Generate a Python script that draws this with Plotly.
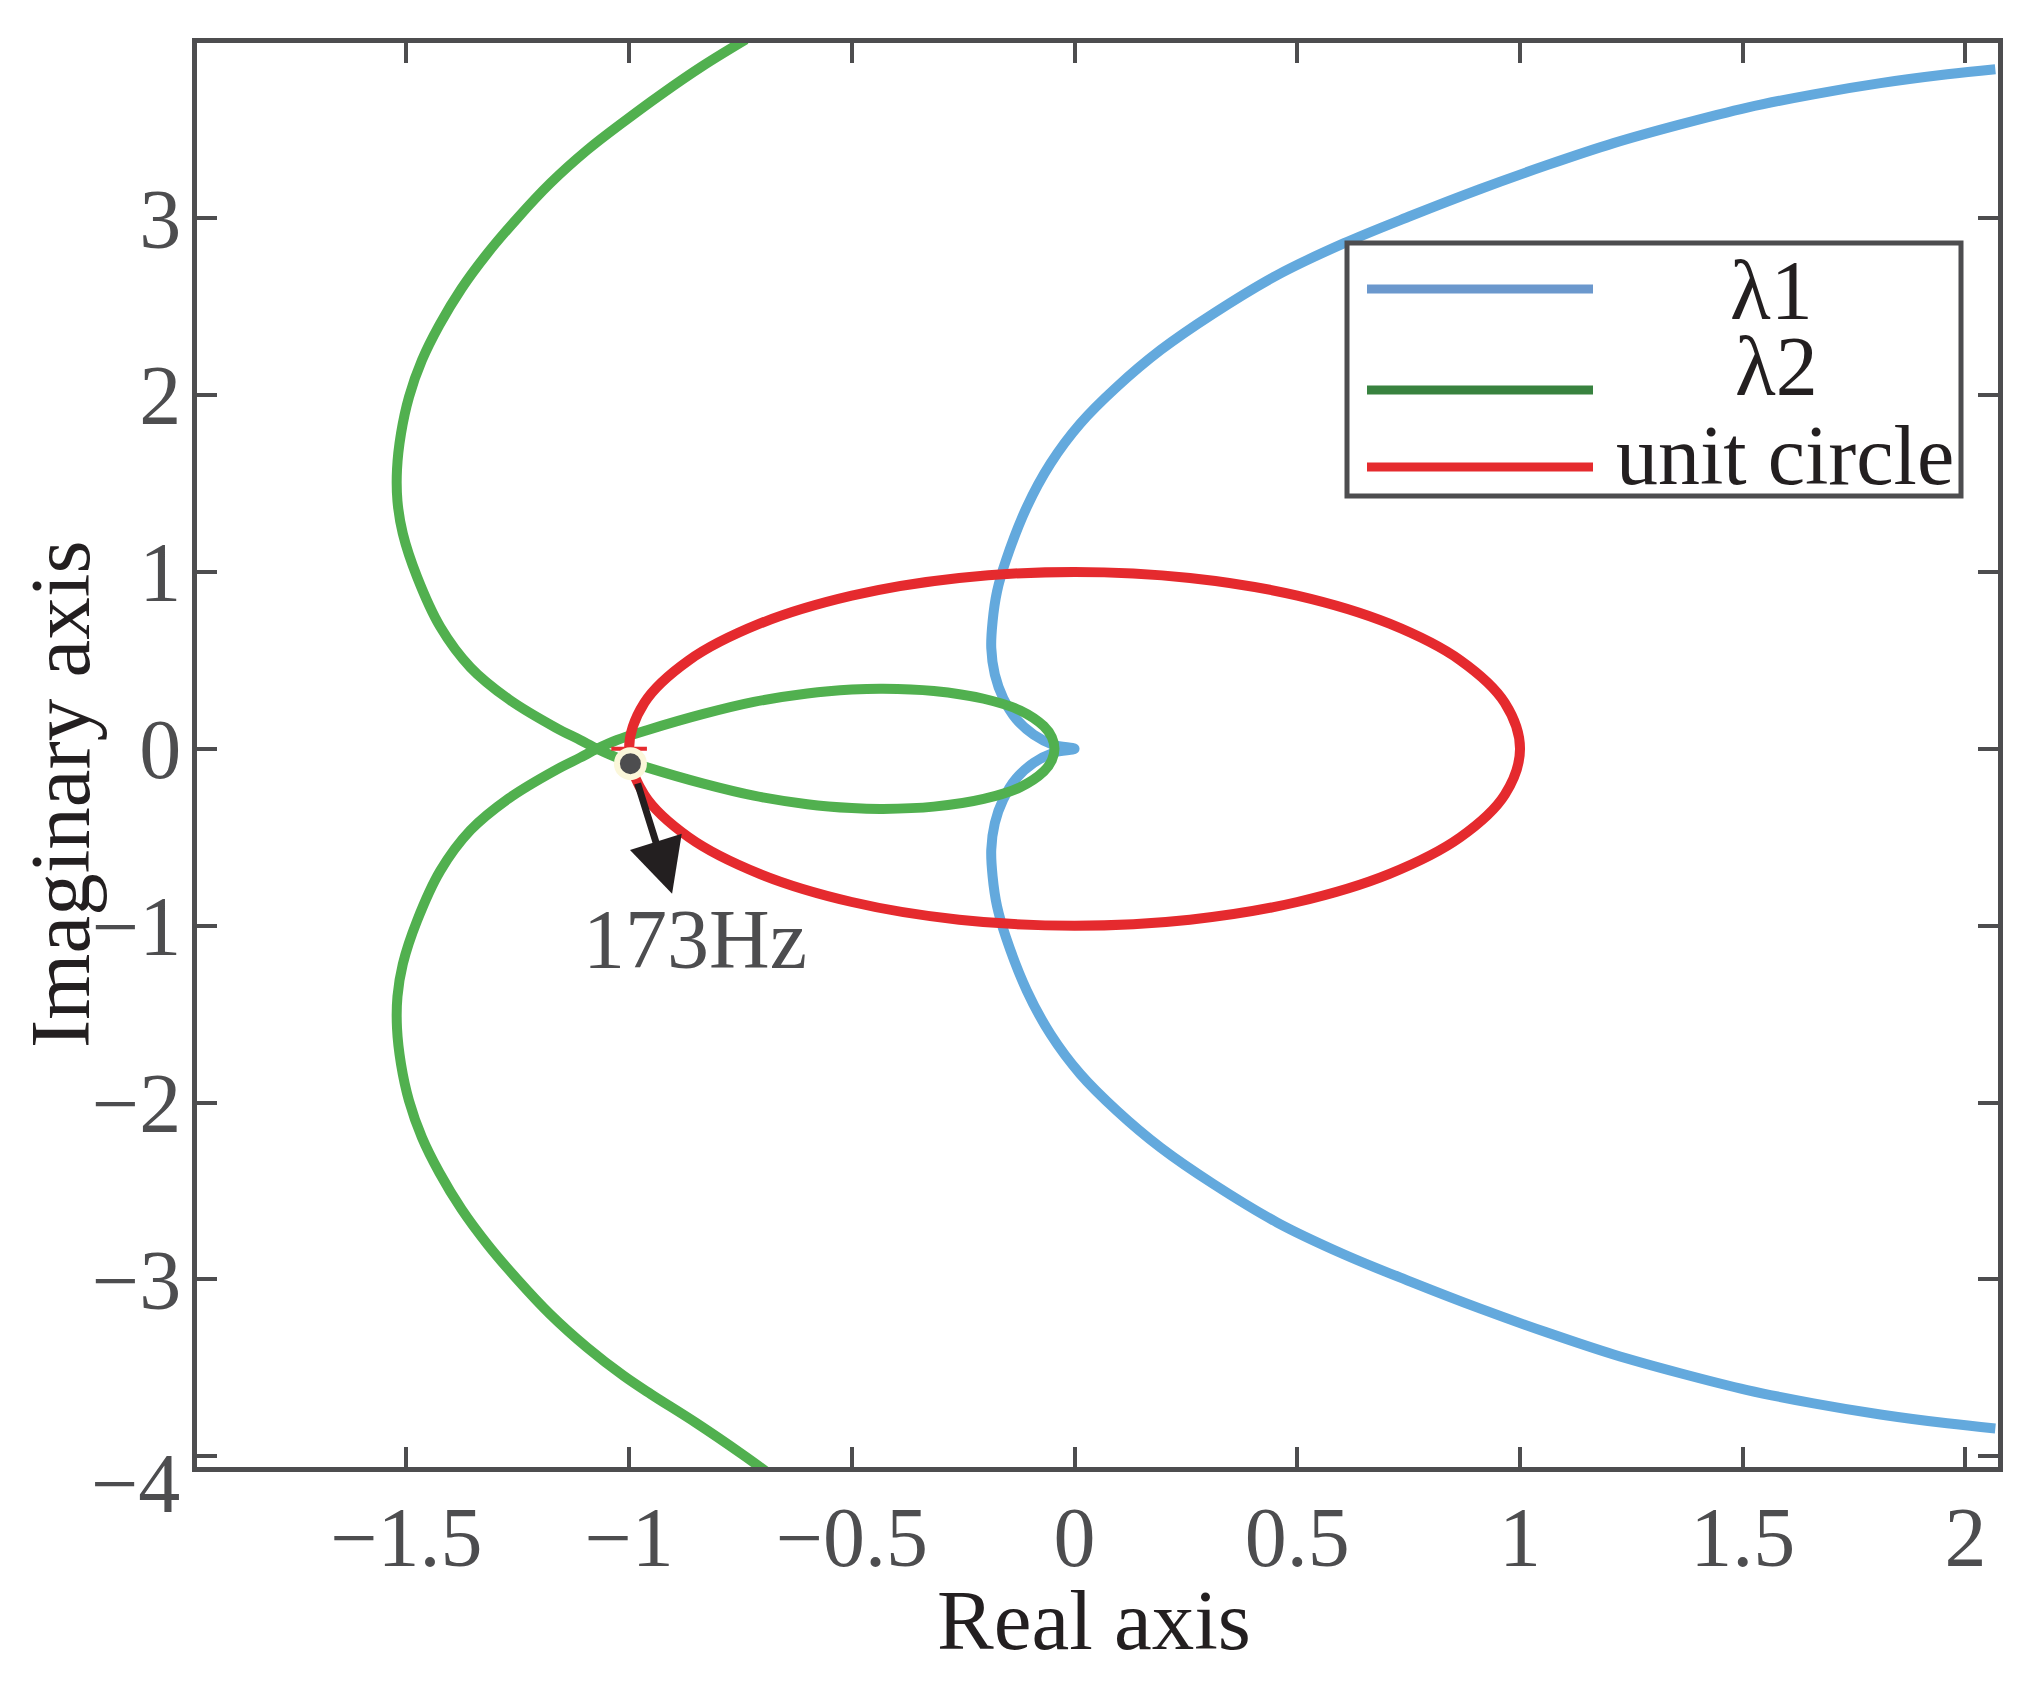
import plotly.graph_objects as go

# eigenvalue loci (real / imaginary parts)
lam1_re = [2.067, 1.959, 1.809, 1.659, 1.510, 1.360, 1.210, 1.061, 0.911, 0.754,
           0.604, 0.455, 0.312, 0.193, 0.095, 0.013, -0.054, -0.107, -0.154, -0.174,
           -0.184, -0.187, -0.179, -0.160, -0.131, -0.092, -0.047, 0.000,
           -0.047, -0.092, -0.131, -0.160, -0.179, -0.187, -0.184, -0.174, -0.154,
           -0.107, -0.054, 0.013, 0.095, 0.193, 0.312, 0.455, 0.604, 0.754, 0.911,
           1.061, 1.210, 1.360, 1.510, 1.659, 1.809, 1.959, 2.067]
lam1_im = [3.842, 3.813, 3.763, 3.700, 3.625, 3.530, 3.424, 3.300, 3.165, 3.012,
           2.857, 2.678, 2.461, 2.254, 2.046, 1.839, 1.613, 1.368, 1.066, 0.890,
           0.720, 0.570, 0.420, 0.285, 0.168, 0.080, 0.022, 0.000,
           -0.022, -0.080, -0.168, -0.285, -0.420, -0.570, -0.720, -0.890, -1.066,
           -1.368, -1.613, -1.839, -2.046, -2.254, -2.461, -2.678, -2.857, -3.012, -3.165,
           -3.300, -3.424, -3.530, -3.625, -3.700, -3.763, -3.813, -3.842]

lam2_re = [-0.738, -0.835, -0.928, -1.012, -1.094, -1.177, -1.251, -1.318, -1.376, -1.426,
           -1.465, -1.494, -1.512, -1.521, -1.520, -1.508, -1.476, -1.424, -1.356, -1.270,
           -1.165, -1.110, -1.072,
           -1.027, -0.960, -0.833, -0.720, -0.600, -0.500, -0.430, -0.316, -0.204, -0.122,
           -0.069, -0.051, -0.045, -0.051, -0.069, -0.122, -0.204, -0.316, -0.430, -0.500,
           -0.600, -0.720, -0.833, -0.960, -1.027,
           -1.072, -1.110, -1.165, -1.270, -1.356, -1.424, -1.476, -1.508, -1.520, -1.521,
           -1.512, -1.494, -1.465, -1.426, -1.376, -1.318, -1.251, -1.177, -1.094, -1.012,
           -0.950, -0.850, -0.745, -0.690]
lam2_im = [4.010, 3.860, 3.700, 3.545, 3.385, 3.197, 2.999, 2.801, 2.603, 2.395,
           2.197, 1.990, 1.783, 1.580, 1.400, 1.217, 0.972, 0.690, 0.460, 0.280,
           0.120, 0.050, 0.000,
           -0.050, -0.105, -0.197, -0.265, -0.313, -0.335, -0.340, -0.327, -0.283, -0.217,
           -0.128, -0.065, 0.000, 0.065, 0.128, 0.217, 0.283, 0.327, 0.340, 0.335,
           0.313, 0.265, 0.197, 0.105, 0.050,
           0.000, -0.050, -0.120, -0.280, -0.460, -0.690, -0.972, -1.217, -1.400, -1.580,
           -1.783, -1.990, -2.197, -2.395, -2.603, -2.801, -2.999, -3.197, -3.385, -3.545,
           -3.650, -3.810, -3.990, -4.090]

circle_re = [1.0, 0.966, 0.866, 0.707, 0.5, 0.259, 0.0, -0.259, -0.5, -0.707, -0.866, -0.966,
             -1.0, -0.966, -0.866, -0.707, -0.5, -0.259, 0.0, 0.259, 0.5, 0.707, 0.866, 0.966, 1.0]
circle_im = [0.0, 0.259, 0.5, 0.707, 0.866, 0.966, 1.0, 0.966, 0.866, 0.707, 0.5, 0.259,
             0.0, -0.259, -0.5, -0.707, -0.866, -0.966, -1.0, -0.966, -0.866, -0.707, -0.5, -0.259, 0.0]

# crossing point marked at 173 Hz
mark_re = [-0.997]
mark_im = [-0.084]
tip_re = [-1.04, -0.96]
tip_im = [0.0, 0.0]
mark_label = "173Hz"

x_ticks = [-1.5, -1, -0.5, 0, 0.5, 1, 1.5, 2]
x_ticktext = ["\u22121.5", "\u22121", "\u22120.5", "0", "0.5", "1", "1.5", "2"]
y_ticks = [-4, -3, -2, -1, 0, 1, 2, 3]
y_ticktext = ["", "\u22123", "\u22122", "\u22121", "0", "1", "2", "3"]
y_low_label = "\u22124"   # sits a little below its tick in the original

legend_names = ["\u03bb1", "\u03bb2", "unit circle"]

# ── page geometry (pixels) ─────────────────────────────
W, H = 2044, 1681
L, R, T, B = 197, 1998, 43, 1467


def px(xp):
    return (xp - L) / (R - L)


def py(yp):
    return (B - yp) / (B - T)


FONT = "Liberation Serif, Times New Roman, serif"
GREY = "#4d4d4f"
INK = "#231f20"
LW = 10

fig = go.Figure()
fig.add_trace(go.Scatter(x=lam1_re, y=lam1_im, mode="lines", name=legend_names[0],
                         line=dict(color="#63a9dd", width=LW, shape="spline", smoothing=1)))
fig.add_trace(go.Scatter(x=lam2_re, y=lam2_im, mode="lines", name=legend_names[1],
                         line=dict(color="#51b04f", width=LW, shape="spline", smoothing=1)))
fig.add_trace(go.Scatter(x=circle_re, y=circle_im, mode="lines", name=legend_names[2],
                         line=dict(color="#e52a2e", width=LW, shape="spline", smoothing=1)))
fig.add_trace(go.Scatter(x=tip_re, y=tip_im, mode="lines", line=dict(color="#e52a2e", width=4)))
fig.add_trace(go.Scatter(x=mark_re, y=mark_im, mode="markers",
                         marker=dict(size=27, color=GREY, line=dict(color="#fbf7da", width=6))))

axis_common = dict(
    showline=True, linecolor=GREY, linewidth=5, mirror="ticks",
    ticks="inside", ticklen=20, tickwidth=4, tickcolor=GREY,
    showgrid=False, zeroline=False,
    tickfont=dict(family=FONT, size=84, color=GREY),
)
fig.update_xaxes(range=[-1.970, 2.073], tickvals=x_ticks, ticktext=x_ticktext,
                 ticklabelstandoff=-7, **axis_common)
fig.update_yaxes(range=[-4.06, 3.99], tickvals=y_ticks, ticktext=y_ticktext,
                 ticklabelstandoff=-6, **axis_common)

# ── hand-built legend box ──────────────────────────────
legend_colors = ["#6b98cd", "#38823f", "#e52b2e"]
legend_line_y = [289, 390, 467]
legend_text_xy = [(1771, 290), (1776, 366), (1785, 455)]
shapes = [dict(type="rect", xref="paper", yref="paper",
               x0=px(1347), x1=px(1961), y0=py(496), y1=py(243),
               line=dict(color=GREY, width=5), fillcolor="white", layer="above")]
for c, ly in zip(legend_colors, legend_line_y):
    shapes.append(dict(type="line", xref="paper", yref="paper",
                       x0=px(1367), x1=px(1593), y0=py(ly), y1=py(ly),
                       line=dict(color=c, width=9), layer="above"))

annotations = []
for name, (tx, ty) in zip(legend_names, legend_text_xy):
    annotations.append(dict(text=name, xref="paper", yref="paper", x=px(tx), y=py(ty),
                            xanchor="center", yanchor="middle", showarrow=False,
                            font=dict(family=FONT, size=84, color=INK)))

# lowest y tick label, drawn a bit under its tick as in the source figure
annotations.append(dict(text=y_low_label, xref="paper", yref="paper", x=px(182), y=py(1483),
                        xanchor="right", yanchor="middle", showarrow=False,
                        font=dict(family=FONT, size=84, color=GREY)))

# arrow + label for the 173 Hz point
annotations.append(dict(text="", x=-0.9035, y=-0.819, xref="x", yref="y",
                        ax=-0.982, ay=-0.188, axref="x", ayref="y",
                        showarrow=True, arrowhead=2, arrowsize=1.55, arrowwidth=7,
                        arrowcolor=INK, standoff=0))
annotations.append(dict(text=mark_label, x=-0.853, y=-1.076, xref="x", yref="y",
                        xanchor="center", yanchor="middle", showarrow=False,
                        font=dict(family=FONT, size=84, color=GREY)))

# axis titles
annotations.append(dict(text="Real axis", xref="paper", yref="paper", x=px(1094), y=py(1620),
                        xanchor="center", yanchor="middle", showarrow=False,
                        font=dict(family=FONT, size=85, color=INK)))
annotations.append(dict(text="Imaginary axis", xref="paper", yref="paper", x=px(60), y=py(795),
                        xanchor="center", yanchor="middle", showarrow=False, textangle=-90,
                        font=dict(family=FONT, size=85, color=INK)))

fig.update_layout(
    width=W, height=H,
    margin=dict(l=L, r=W - R, t=T, b=H - B),
    paper_bgcolor="white", plot_bgcolor="white",
    showlegend=False,
    shapes=shapes, annotations=annotations,
)

fig.write_html("out.html", config={"displayModeBar": False},
               post_script="document.body.style.margin='0';")
